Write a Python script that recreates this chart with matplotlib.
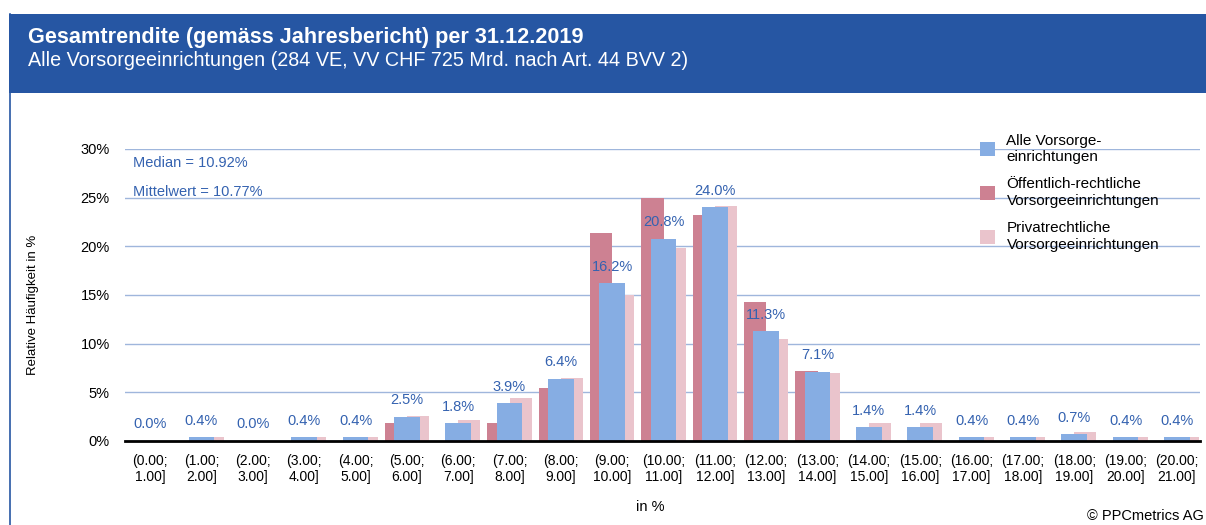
import numpy as np
import matplotlib.pyplot as plt
from matplotlib.patches import Rectangle
from matplotlib.lines import Line2D

plt.rcParams['font.family'] = ['Liberation Sans', 'DejaVu Sans']

# relative frequency in %, per return bucket
categories = ['(0.00;\n1.00]', '(1.00;\n2.00]', '(2.00;\n3.00]', '(3.00;\n4.00]', '(4.00;\n5.00]',
              '(5.00;\n6.00]', '(6.00;\n7.00]', '(7.00;\n8.00]', '(8.00;\n9.00]', '(9.00;\n10.00]',
              '(10.00;\n11.00]', '(11.00;\n12.00]', '(12.00;\n13.00]', '(13.00;\n14.00]', '(14.00;\n15.00]',
              '(15.00;\n16.00]', '(16.00;\n17.00]', '(17.00;\n18.00]', '(18.00;\n19.00]', '(19.00;\n20.00]',
              '(20.00;\n21.00]']
alle = [0.0, 0.4, 0.0, 0.4, 0.4, 2.5, 1.8, 3.9, 6.4, 16.2, 20.8, 24.0, 11.3, 7.1, 1.4, 1.4, 0.4, 0.4, 0.7, 0.4, 0.4]
oeff = [0.0, 0.0, 0.0, 0.0, 0.0, 1.8, 0.0, 1.8, 5.4, 21.4, 25.0, 23.2, 14.3, 7.2, 0.0, 0.0, 0.0, 0.0, 0.0, 0.0, 0.0]
privat = [0.0, 0.4, 0.0, 0.4, 0.4, 2.6, 2.2, 4.4, 6.5, 15.0, 19.8, 24.1, 10.5, 7.0, 1.8, 1.8, 0.4, 0.4, 0.9, 0.4, 0.4]
yticks = [0, 5, 10, 15, 20, 25, 30]

BLUE = '#86ade3'
RED = '#cd8192'
PINK = '#eac4cc'
TXT = '#3462b0'
HEAD = '#2656a3'

W, H = 1206, 525
fig = plt.figure(figsize=(W / 100, H / 100), dpi=100)

# header band + frame line
fig.patches.append(Rectangle((9 / W, 1 - 93 / H), 1, 79 / H, transform=fig.transFigure,
                             facecolor=HEAD, edgecolor='none', zorder=0))
fig.lines.append(Line2D([10 / W, 10 / W], [0, 1 - 14 / H], transform=fig.transFigure,
                        color=HEAD, lw=1.2))
fig.text(28 / W, 1 - 37 / H, 'Gesamtrendite (gemäss Jahresbericht) per 31.12.2019',
         color='white', fontsize=15.6, fontweight='bold', va='center')
fig.text(28 / W, 1 - 61 / H, 'Alle Vorsorgeeinrichtungen (284 VE, VV CHF 725 Mrd. nach Art. 44 BVV 2)',
         color='white', fontsize=14.2, va='center')

ax = fig.add_axes([125 / W, 1 - 441 / H, (1200 - 125) / W, (441 - 149) / H])
x = np.arange(len(categories))

ax.bar(x - 0.215, oeff, 0.43, color=RED, zorder=2, label='Öffentlich-rechtliche\nVorsorgeeinrichtungen')
ax.bar(x + 0.215, privat, 0.43, color=PINK, zorder=2, label='Privatrechtliche\nVorsorgeeinrichtungen')
ax.bar(x, alle, 0.5, color=BLUE, zorder=3, label='Alle Vorsorge-\neinrichtungen')

for xi, v in zip(x, alle):
    ax.annotate(f'{v:.1f}%', (xi, v), xytext=(0, 9), textcoords='offset points',
                ha='center', va='baseline', color=TXT, fontsize=10.5, zorder=4)

ax.set_xlim(-0.49, 20.45)
ax.set_ylim(0, 30)
ax.set_yticks(yticks)
ax.set_yticklabels([f'{t}%' for t in yticks])
ax.set_xticks(x)
ax.set_xticklabels(categories)
ax.tick_params(axis='y', length=0, pad=11, labelsize=10.5)
ax.tick_params(axis='x', length=0, pad=9, labelsize=10)
ax.grid(axis='y', color='#9fb6dc', lw=1, zorder=1)
for s in ['top', 'right', 'left']:
    ax.spines[s].set_visible(False)
ax.spines['bottom'].set_linewidth(2)
ax.spines['bottom'].set_zorder(5)

ax.text(-0.33, 28.6, 'Median = 10.92%', color=TXT, fontsize=10.5, va='center')
ax.text(-0.33, 25.6, 'Mittelwert = 10.77%', color=TXT, fontsize=10.5, va='center')

h, l = ax.get_legend_handles_labels()
order = [2, 0, 1]
leg = ax.legend([h[i] for i in order], [l[i] for i in order], loc='upper left',
                bbox_to_anchor=((966 - 125) / (1200 - 125), 1.10), frameon=False,
                fontsize=11, handlelength=1.0, handleheight=1.0, handletextpad=0.75,
                labelspacing=0.9)

fig.text(33 / W, 1 - 305 / H, 'Relative Häufigkeit in %', rotation=90, ha='center', va='center',
         fontsize=9.5)
fig.text(650 / W, 1 - 507 / H, 'in %', ha='center', va='center', fontsize=10.5)
fig.text(1204 / W, 1 - 516 / H, '© PPCmetrics AG', ha='right', va='center', fontsize=10.5)

fig.savefig('out.png', dpi=100)
